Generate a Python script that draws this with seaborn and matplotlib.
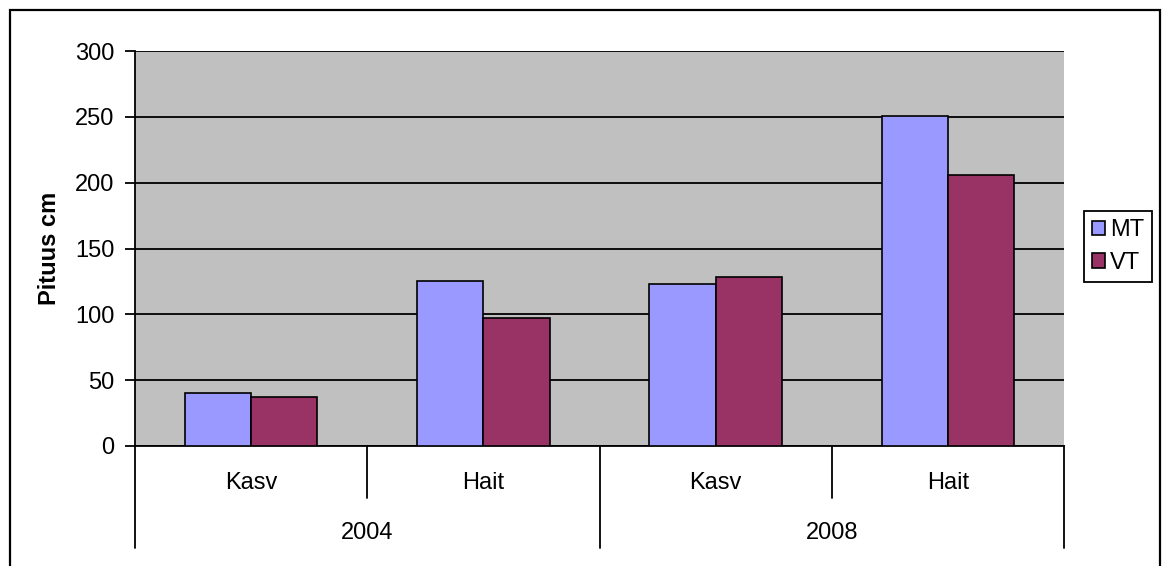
import matplotlib
matplotlib.use("Agg")
import matplotlib.pyplot as plt
import seaborn as sns
import pandas as pd
from matplotlib.patches import Rectangle
from matplotlib.lines import Line2D

years = ["2004", "2004", "2008", "2008"]
stages = ["Kasv", "Hait", "Kasv", "Hait"]
mt_values = [40, 125, 123, 251]
vt_values = [37, 97, 128, 206]
series = ["MT", "VT"]
colors = ["#9999FF", "#993366"]
yticks = [0, 50, 100, 150, 200, 250, 300]
ylabel = "Pituus cm"

cats = [f"{y} {s}" for y, s in zip(years, stages)]
df = pd.DataFrame({
    "cat": cats * 2,
    "series": [series[0]] * 4 + [series[1]] * 4,
    "value": mt_values + vt_values,
})

sns.set_theme(style="white")
plt.rcParams["font.family"] = ["Liberation Sans", "DejaVu Sans"]
plt.rcParams["text.color"] = "black"
plt.rcParams["axes.labelcolor"] = "black"
plt.rcParams["ytick.color"] = "black"
plt.rcParams["xtick.color"] = "black"

FS = 17
W, H = 1162, 566
fig = plt.figure(figsize=(W / 100, H / 100), dpi=100)
ax = fig.add_axes([135 / W, 1 - 446 / H, (1064 - 135) / W, (446 - 51) / H])
ax.set_facecolor("#C0C0C0")

sns.barplot(data=df, x="cat", y="value", hue="series", order=cats,
            hue_order=series, palette=colors, width=0.57, dodge=True,
            saturation=1, edgecolor="black", linewidth=1.2, ax=ax, zorder=3)

ax.set_ylim(0, 300)
ax.set_xlim(-0.5, 3.5)
ax.set_yticks(yticks)
ax.set_yticklabels([str(v) for v in yticks], fontsize=FS, color="black")
ax.yaxis.grid(True, color="black", linewidth=1.3)
ax.set_axisbelow(True)
ax.tick_params(axis="y", direction="out", length=7, width=1.3, color="black",
               pad=8, left=True)
ax.set_xticks([])
ax.set_xlabel("")
ax.set_ylabel(ylabel, fontsize=FS, fontweight="bold", labelpad=10,
              color="black")

for side in ["top", "right"]:
    ax.spines[side].set_visible(False)
ax.spines["left"].set_color("black")
ax.spines["left"].set_linewidth(1.3)
ax.spines["bottom"].set_color("black")
ax.spines["bottom"].set_linewidth(1.3)

# multi-level category axis
tr = ax.get_xaxis_transform()
for i, x in enumerate([-0.5, 0.5, 1.5, 2.5, 3.5]):
    ybot = -0.131 if i in (1, 3) else -0.258
    ax.add_line(Line2D([x, x], [0, ybot], transform=tr, color="black",
                       linewidth=1.3, clip_on=False))
for i, s in enumerate(stages):
    ax.text(i, -0.094, s, transform=tr, ha="center", va="center",
            fontsize=FS, color="black")
for j, y in enumerate(["2004", "2008"]):
    ax.text(2 * j + 0.5, -0.22, y, transform=tr, ha="center", va="center",
            fontsize=FS, color="black")

# legend
handles, labels = ax.get_legend_handles_labels()
if ax.get_legend() is not None:
    ax.get_legend().remove()
leg = ax.legend(handles, labels, loc="center",
                bbox_to_anchor=(1118 / W, 1 - 246.5 / H),
                bbox_transform=fig.transFigure, fontsize=FS, frameon=True,
                fancybox=False, edgecolor="black", framealpha=1,
                handlelength=0.55, handleheight=0.55, handletextpad=0.2,
                borderpad=0.35, labelspacing=0.45, borderaxespad=0)
leg.get_frame().set_linewidth(1.3)
for t in leg.get_texts():
    t.set_color("black")

# outer chart border
fig.add_artist(Rectangle((10 / W, -0.1), (1160 - 10) / W, 1.1 - 10 / H,
                         transform=fig.transFigure, fill=False,
                         edgecolor="black", linewidth=1.6))

fig.savefig("out.png", dpi=100, facecolor="white")
